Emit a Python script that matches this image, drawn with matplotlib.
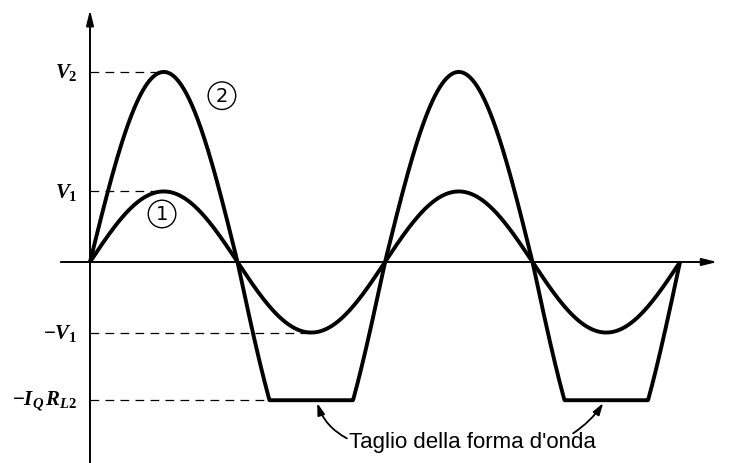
import numpy as np
import matplotlib
matplotlib.use("Agg")
import matplotlib.pyplot as plt

plt.rcParams['mathtext.fontset'] = 'custom'
plt.rcParams['mathtext.it'] = 'Liberation Serif:italic:bold'
plt.rcParams['mathtext.rm'] = 'Liberation Serif:bold'
plt.rcParams['mathtext.bf'] = 'Liberation Serif:bold'

# values of the waveforms (units of V1, time in radians)
V1 = 0.98
V2 = 2.64
V2_neg = 3.05      # the negative swing of curve 2 is steeper before the clip
clip_level = -1.92
n_periods = 2
level_labels = [r'$V_2$', r'$V_1$', r'$-V_1$', r'$-I_Q\,R_{L2}$']
level_values = [V2, V1, -V1, clip_level]
# where each dashed guide stops (at the peak / trough / clip start)
level_stop = [np.pi / 2, np.pi / 2, 3 * np.pi / 2, np.pi + np.arcsin(-clip_level / V2_neg)]
note_text = "Taglio della forma d'onda"

t = np.linspace(0, 2 * np.pi * n_periods, 2000)
s = np.sin(t)
wave1 = V1 * s
wave2 = np.where(s >= 0, V2 * s, np.maximum(V2_neg * s, clip_level))

fig = plt.figure(figsize=(7.43, 4.64), dpi=100)
ax = fig.add_axes([0, 0, 1, 1])
ax.set_xlim(-1.917, 13.908)
ax.set_ylim(-2.792, 3.653)
ax.axis('off')

# axes with arrows
ax.annotate('', xy=(13.42, 0), xytext=(-0.68, 0),
            arrowprops=dict(arrowstyle='-|>,head_length=0.9,head_width=0.22', lw=1.4, color='k'))
ax.annotate('', xy=(0, 3.54), xytext=(0, -2.9),
            arrowprops=dict(arrowstyle='-|>,head_length=0.9,head_width=0.22', lw=1.4, color='k'))

# dashed guides and level labels
for lab, val, stop in zip(level_labels, level_values, level_stop):
    ax.plot([0, stop], [val, val], color='k', lw=0.9, ls=(0, (7, 5)))
    ax.text(-0.26, val, lab, ha='right', va='center', fontsize=15)

ax.plot(t, wave1, color='k', lw=2.8, solid_capstyle='butt')
ax.plot(t, wave2, color='k', lw=2.8, solid_capstyle='butt')

# circled curve numbers
circ = dict(boxstyle='circle,pad=0.22', fc='white', ec='black', lw=1.0)
ax.text(1.534, 0.667, '1', ha='center', va='center', fontsize=14, bbox=circ)
ax.text(2.81, 2.31, '2', ha='center', va='center', fontsize=14, bbox=circ)

# clipping note
ax.text(5.52, -2.50, note_text, ha='left', va='center', fontsize=16, family='Liberation Sans')
ax.annotate('', xy=(4.84, -1.96), xytext=(5.47, -2.45),
            arrowprops=dict(arrowstyle='-|>,head_length=0.7,head_width=0.22', lw=1.3, color='k',
                            connectionstyle='arc3,rad=-0.2', shrinkA=0, shrinkB=0))
ax.annotate('', xy=(10.93, -1.96), xytext=(10.29, -2.38),
            arrowprops=dict(arrowstyle='-|>,head_length=0.7,head_width=0.22', lw=1.3, color='k',
                            connectionstyle='arc3,rad=0.1', shrinkA=0, shrinkB=0))

fig.savefig('out.png', dpi=100)
